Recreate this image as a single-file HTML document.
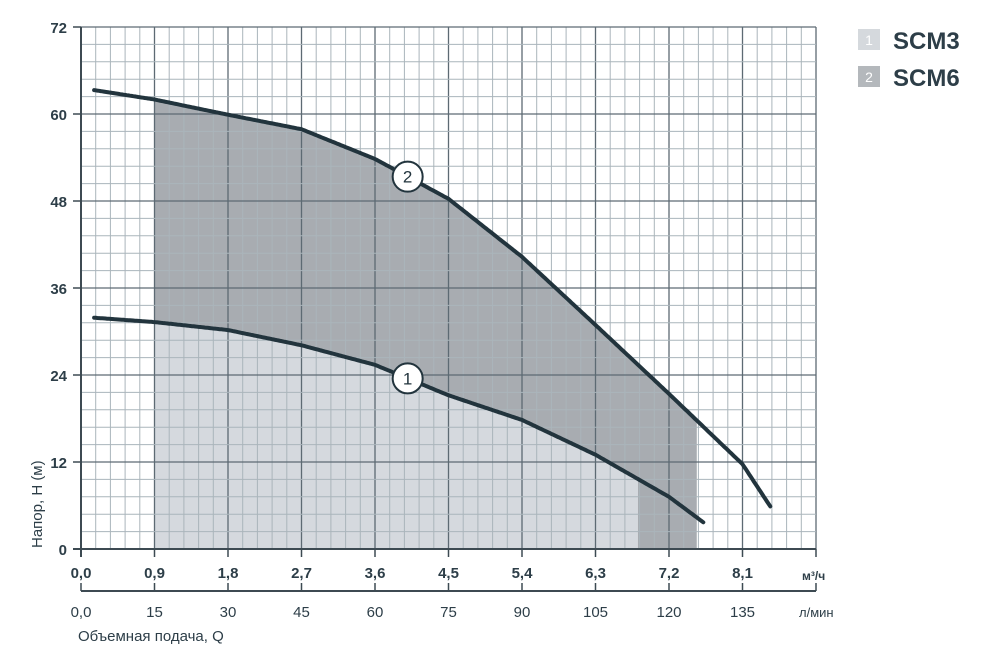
<!DOCTYPE html>
<html><head><meta charset="utf-8"><style>
body{margin:0;background:#fff;width:1000px;height:661px;overflow:hidden;font-family:"Liberation Sans",sans-serif}
</style></head><body>
<svg width="1000" height="661" xmlns="http://www.w3.org/2000/svg" font-family="'Liberation Sans',sans-serif">
<g id="shade"></g>
<g id="grid"></g>
<g id="curves"></g>
<g id="axes"></g>
<g>
<rect x="858" y="29" width="22" height="21" fill="#d5d9dd"/>
<text x="869" y="45" font-size="14" fill="#fff" text-anchor="middle">1</text>
<text x="893" y="49" font-size="24" font-weight="bold" fill="#2d3e48">SCM3</text>
<rect x="858" y="66" width="22" height="21" fill="#b4b8bc"/>
<text x="869" y="82" font-size="14" fill="#fff" text-anchor="middle">2</text>
<text x="893" y="86" font-size="24" font-weight="bold" fill="#2d3e48">SCM6</text>
</g>
</svg>
<script>
const q1=[0.16,0.9,1.8,2.7,3.6,4.5,5.4,6.3,7.2,7.63];
const h1=[31.9,31.3,30.2,28.1,25.4,21.2,17.8,13.0,7.2,3.6];
const q2=[0.16,0.9,1.8,2.7,3.6,4.5,5.4,6.3,7.2,8.1,8.45];
const h2=[63.3,62.0,59.9,57.9,53.8,48.3,40.3,30.9,21.4,11.7,5.7];
const xTicks=["0,0","0,9","1,8","2,7","3,6","4,5","5,4","6,3","7,2","8,1"];
const lTicks=["0,0","15","30","45","60","75","90","105","120","135"];
const yTicks=["0","12","24","36","48","60","72"];
const range=[0.9,6.82,7.54];
const NS="http://www.w3.org/2000/svg";
const X=q=>81+q*(735/9), Y=h=>549-h*(522/72);
function mk(p,t,a){const e=document.createElementNS(NS,t);for(const k in a)e.setAttribute(k,a[k]);document.getElementById(p).appendChild(e);return e;}
function interp(qs,hs,q){for(let i=0;i<qs.length-1;i++){if(q>=qs[i]&&q<=qs[i+1]){const t=(q-qs[i])/(qs[i+1]-qs[i]);return hs[i]+t*(hs[i+1]-hs[i]);}}return q<qs[0]?hs[0]:hs[hs.length-1];}
function pathFor(qs,hs,a,b,rev){let pts=[];for(let q=a;q<=b+1e-9;q+=0.02)pts.push([q,interp(qs,hs,q)]);if(rev)pts.reverse();return pts.map(p=>X(p[0]).toFixed(1)+","+Y(p[1]).toFixed(1)).join(" L");}
// shading
let d2="M"+X(range[0])+","+Y(0)+" L"+pathFor(q2,h2,range[0],range[2])+" L"+X(range[2])+","+Y(0)+"Z";
let s2=mk("shade","path",{d:d2,fill:"#a8acb1"});


let d1="M"+X(range[0])+","+Y(0)+" L"+pathFor(q1,h1,range[0],range[1])+" L"+X(range[1])+","+Y(0)+"Z";
let s1=mk("shade","path",{d:d1,fill:"#d5d9de"});


// grid
for(let i=0;i<=50;i++){const x=X(i*0.18);const maj=i%5==0;mk("grid","line",{x1:x,x2:x,y1:Y(72),y2:Y(0),stroke:maj?"#5d6a73":"#aab5bb","stroke-width":maj?1.3:1});}
for(let i=0;i<=30;i++){const y=Y(i*2.4);const maj=i%5==0;mk("grid","line",{x1:X(0),x2:X(9),y1:y,y2:y,stroke:maj?"#5d6a73":"#aab5bb","stroke-width":maj?1.3:1});}
// curves
[[q1,h1,"scm3-curve"],[q2,h2,"scm6-curve"]].forEach(c=>{const p=mk("curves","path",{d:"M"+pathFor(c[0],c[1],c[0][0],c[0][c[0].length-1]),fill:"none",stroke:"#22343d","stroke-width":4,"stroke-linecap":"round"});

});
[[4.0,interp(q2,h2,4.0),"2"],[4.0,interp(q1,h1,4.0),"1"]].forEach(m=>{const c=mk("curves","circle",{cx:X(m[0]),cy:Y(m[1]),r:15,fill:"#fff",stroke:"#22343d","stroke-width":2});


const t=mk("curves","text",{x:X(m[0]),y:Y(m[1])+6,"font-size":17,"text-anchor":"middle",fill:"#22343d"});t.textContent=m[2];});
// axes
mk("axes","line",{x1:X(0),x2:X(0),y1:Y(72),y2:Y(0)+8,stroke:"#3d4a52","stroke-width":2});
mk("axes","line",{x1:X(0)-8,x2:X(9),y1:Y(0),y2:Y(0),stroke:"#3d4a52","stroke-width":2});
mk("axes","line",{x1:X(9),x2:X(9),y1:Y(0),y2:Y(0)+8,stroke:"#3d4a52","stroke-width":1.5});
mk("axes","line",{x1:X(0),x2:X(9),y1:591,y2:591,stroke:"#3d4a52","stroke-width":2});
xTicks.forEach((l,i)=>{const x=X(i*0.9);mk("axes","line",{x1:x,x2:x,y1:Y(0),y2:Y(0)+8,stroke:"#3d4a52","stroke-width":1.5});const t=mk("axes","text",{x:x,y:578,"font-size":15,"font-weight":"bold","text-anchor":"middle",fill:"#2d3e48"});t.textContent=l;

});
lTicks.forEach((l,i)=>{const x=X(i*0.9);mk("axes","line",{x1:x,x2:x,y1:591,y2:583,stroke:"#3d4a52","stroke-width":1.5});const t=mk("axes","text",{x:x,y:617,"font-size":15,"text-anchor":"middle",fill:"#2d3e48"});t.textContent=l;

});
mk("axes","line",{x1:X(9),x2:X(9),y1:591,y2:583,stroke:"#3d4a52","stroke-width":1.5});
yTicks.forEach((l,i)=>{const y=Y(i*12);mk("axes","line",{x1:X(0)-8,x2:X(0),y1:y,y2:y,stroke:"#3d4a52","stroke-width":1.5});const t=mk("axes","text",{x:67,y:y+6,"font-size":15,"font-weight":"bold","text-anchor":"end",fill:"#2d3e48"});t.textContent=l;

});
let u=mk("axes","text",{x:802,y:580,"font-size":12,"font-weight":"bold",fill:"#2d3e48"});u.textContent="м³/ч";


u=mk("axes","text",{x:799,y:617,"font-size":13,fill:"#2d3e48"});u.textContent="л/мин";


u=mk("axes","text",{x:78,y:641,"font-size":15,fill:"#2d3e48"});u.textContent="Объемная подача, Q";


u=mk("axes","text",{x:42,y:548,"font-size":15,fill:"#2d3e48",transform:"rotate(-90 42 548)"});u.textContent="Напор, H (м)";


</script>
</body></html>
